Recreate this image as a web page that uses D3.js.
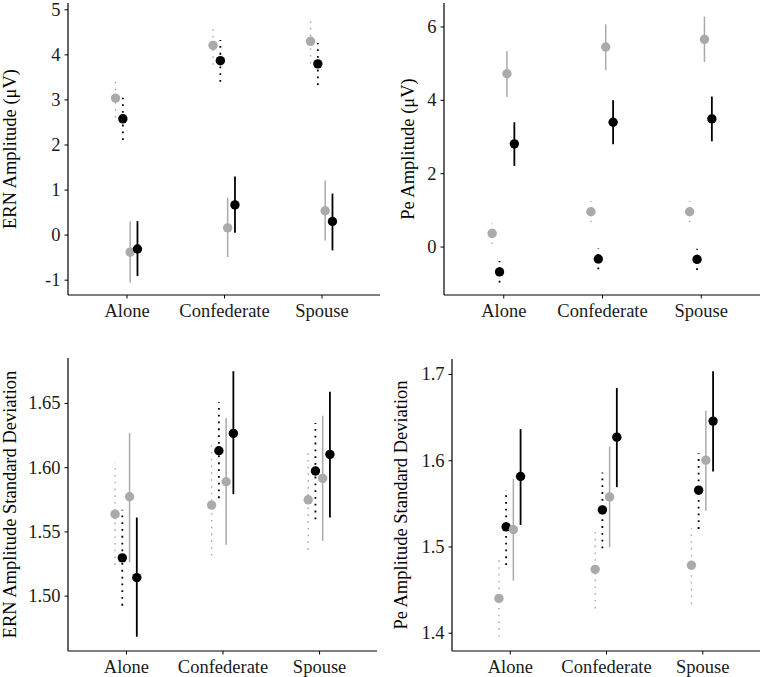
<!DOCTYPE html>
<html>
<head>
<meta charset="utf-8">
<script src="https://cdn.jsdelivr.net/npm/d3@7"></script>
<style>
  body { margin: 0; background: #fff; }
  text { font-family: "Liberation Serif", "Times New Roman", serif; }
</style>
</head>
<body>
<svg id="my_dataviz"></svg>
<script>
// categories on the x axis and the four dodged series (gray/black x dotted/solid)
var categories = ["Alone", "Confederate", "Spouse"];
var series = ["grayDotted", "blackDotted", "graySolid", "blackSolid"];

// ERN amplitude (uV): one row per series, one column per category
var ernMean = [[3.03, 4.20, 4.29], [2.57, 3.86, 3.79], [-0.39, 0.15, 0.53], [-0.32, 0.66, 0.29]];
var ernLo   = [[2.60, 3.77, 3.80], [2.10, 3.39, 3.32], [-1.06, -0.50, -0.13], [-0.92, 0.04, -0.35]];
var ernHi   = [[3.46, 4.63, 4.75], [3.04, 4.32, 4.25], [0.29, 0.82, 1.20], [0.30, 1.29, 0.91]];
var ernTicks = [-1, 0, 1, 2, 3, 4, 5];
var ernLimits = [-1.34, 5.14];

// Pe amplitude (uV)
var peMean = [[0.36, 0.95, 0.95], [-0.69, -0.34, -0.35], [4.71, 5.44, 5.65], [2.80, 3.39, 3.48]];
var peLo   = [[0.07, 0.66, 0.66], [-0.98, -0.62, -0.64], [4.08, 4.81, 5.03], [2.20, 2.79, 2.87]];
var peHi   = [[0.65, 1.24, 1.24], [-0.39, -0.05, -0.06], [5.33, 6.06, 6.27], [3.39, 3.99, 4.09]];
var peTicks = [0, 2, 4, 6];
var peLimits = [-1.32, 6.64];

// ERN amplitude standard deviation
var ernSdMean = [[1.5634, 1.5705, 1.5746], [1.5294, 1.6128, 1.5970], [1.5770, 1.5887, 1.5913], [1.5140, 1.6263, 1.6100]];
var ernSdLo   = [[1.5239, 1.5312, 1.5356], [1.4922, 1.5759, 1.5595], [1.5260, 1.5395, 1.5426], [1.4680, 1.5790, 1.5608]];
var ernSdHi   = [[1.6037, 1.6175, 1.6141], [1.5668, 1.6505, 1.6344], [1.6266, 1.6383, 1.6401], [1.5608, 1.6747, 1.6588]];
var ernSdTicks = [1.50, 1.55, 1.60, 1.65];
var ernSdLimits = [1.4569, 1.685];

// Pe amplitude standard deviation
var peSdMean = [[1.4398, 1.4735, 1.4782], [1.5227, 1.5424, 1.5653], [1.5196, 1.5575, 1.6001], [1.5811, 1.6268, 1.6454]];
var peSdLo   = [[1.3953, 1.4282, 1.4333], [1.4786, 1.4979, 1.5204], [1.4604, 1.4991, 1.5413], [1.5250, 1.5688, 1.5870]];
var peSdHi   = [[1.4844, 1.5173, 1.5211], [1.5656, 1.5858, 1.6082], [1.5784, 1.6160, 1.6574], [1.6361, 1.6837, 1.7031]];
var peSdTicks = [1.4, 1.5, 1.6, 1.7];
var peSdLimits = [1.3788, 1.7174];

// look of each series
var seriesColor = { grayDotted: "#aaaaaa", blackDotted: "#000000", graySolid: "#aaaaaa", blackSolid: "#000000" };
var seriesDash  = { grayDotted: "1.6,5.2", blackDotted: "1.8,5", graySolid: null, blackSolid: null };
var seriesWidth = { grayDotted: 1.4, blackDotted: 1.8, graySolid: 1.5, blackSolid: 1.8 };

var width = 763, height = 677;
var svg = d3.select("#my_dataviz")
    .attr("width", width)
    .attr("height", height);
svg.append("rect").attr("width", width).attr("height", height).attr("fill", "#fff");

// one panel = one ggplot-like pointrange plot
function drawPanel(p) {
  var g = svg.append("g");

  var x = d3.scalePoint()
    .domain(categories)
    .range([p.left, p.right])
    .padding(0.6);

  // dodge width 0.3 of a category step, 4 groups
  var half = x.step() * 0.3 * 3 / 8;
  var dodge = d3.scalePoint()
    .domain(series)
    .range([-half, half]);

  var y = d3.scaleLinear()
    .domain(p.limits)
    .range([p.bottom, p.top]);

  // build rows from the arrays
  var rows = [];
  series.forEach(function(s, i) {
    categories.forEach(function(c, j) {
      rows.push({ s: s, c: c, m: p.mean[i][j], lo: p.lo[i][j], hi: p.hi[i][j] });
    });
  });

  // error ranges first, drawn from lower to upper end
  g.selectAll("line.range")
    .data(rows)
    .enter()
    .append("line")
      .attr("class", "range")
      .attr("x1", function(d) { return x(d.c) + dodge(d.s); })
      .attr("x2", function(d) { return x(d.c) + dodge(d.s); })
      .attr("y1", function(d) { return y(d.lo); })
      .attr("y2", function(d) { return y(d.hi); })
      .attr("stroke", function(d) { return seriesColor[d.s]; })
      .attr("stroke-width", function(d) { return seriesWidth[d.s]; })
      .attr("stroke-dasharray", function(d) { return seriesDash[d.s]; });

  // then the points
  g.selectAll("circle")
    .data(rows)
    .enter()
    .append("circle")
      .attr("cx", function(d) { return x(d.c) + dodge(d.s); })
      .attr("cy", function(d) { return y(d.m); })
      .attr("r", 4.7)
      .attr("fill", function(d) { return seriesColor[d.s]; });

  // axes
  var yAxis = g.append("g")
    .attr("transform", "translate(" + p.left + ",0)")
    .call(d3.axisLeft(y).tickValues(p.ticks).tickSize(3.5).tickPadding(4).tickFormat(p.fmt));
  var xAxis = g.append("g")
    .attr("transform", "translate(0," + p.bottom + ")")
    .call(d3.axisBottom(x).tickSize(3.5).tickPadding(5).tickSizeOuter(0));

  [xAxis, yAxis].forEach(function(a) {
    a.select(".domain").attr("stroke", "#000").attr("stroke-width", 1.2)
      .attr("d", a === xAxis
        ? "M" + p.left + ",0H" + p.right
        : "M0," + p.top + "V" + p.bottom);
    a.selectAll(".tick line").attr("stroke", "#000").attr("stroke-width", 1);
    a.selectAll(".tick text")
      .attr("fill", "#1a1a1a")
      .style("font-family", "'Liberation Serif', 'Times New Roman', serif")
      .style("font-size", "18.5px");
  });

  // axis title
  g.append("text")
    .attr("transform", "translate(" + p.titleX + "," + ((p.top + p.bottom) / 2) + ") rotate(-90)")
    .attr("text-anchor", "middle")
    .style("font-size", "18.5px")
    .attr("fill", "#000")
    .text(p.title);
}

var intFmt = function(d) { return String(d); };

drawPanel({ left: 68, right: 380, top: 3, bottom: 295, titleX: 16,
  mean: ernMean, lo: ernLo, hi: ernHi, ticks: ernTicks, limits: ernLimits, fmt: intFmt,
  title: "ERN Amplitude (\u03bcV)" });
drawPanel({ left: 444, right: 760, top: 3, bottom: 295, titleX: 414,
  mean: peMean, lo: peLo, hi: peHi, ticks: peTicks, limits: peLimits, fmt: intFmt,
  title: "Pe Amplitude (\u03bcV)" });
drawPanel({ left: 68, right: 377, top: 358, bottom: 651, titleX: 16,
  mean: ernSdMean, lo: ernSdLo, hi: ernSdHi, ticks: ernSdTicks, limits: ernSdLimits, fmt: d3.format(".2f"),
  title: "ERN Amplitude Standard Deviation" });
drawPanel({ left: 452, right: 760, top: 359, bottom: 651, titleX: 407,
  mean: peSdMean, lo: peSdLo, hi: peSdHi, ticks: peSdTicks, limits: peSdLimits, fmt: d3.format(".1f"),
  title: "Pe Amplitude Standard Deviation" });
</script>
</body>
</html>
